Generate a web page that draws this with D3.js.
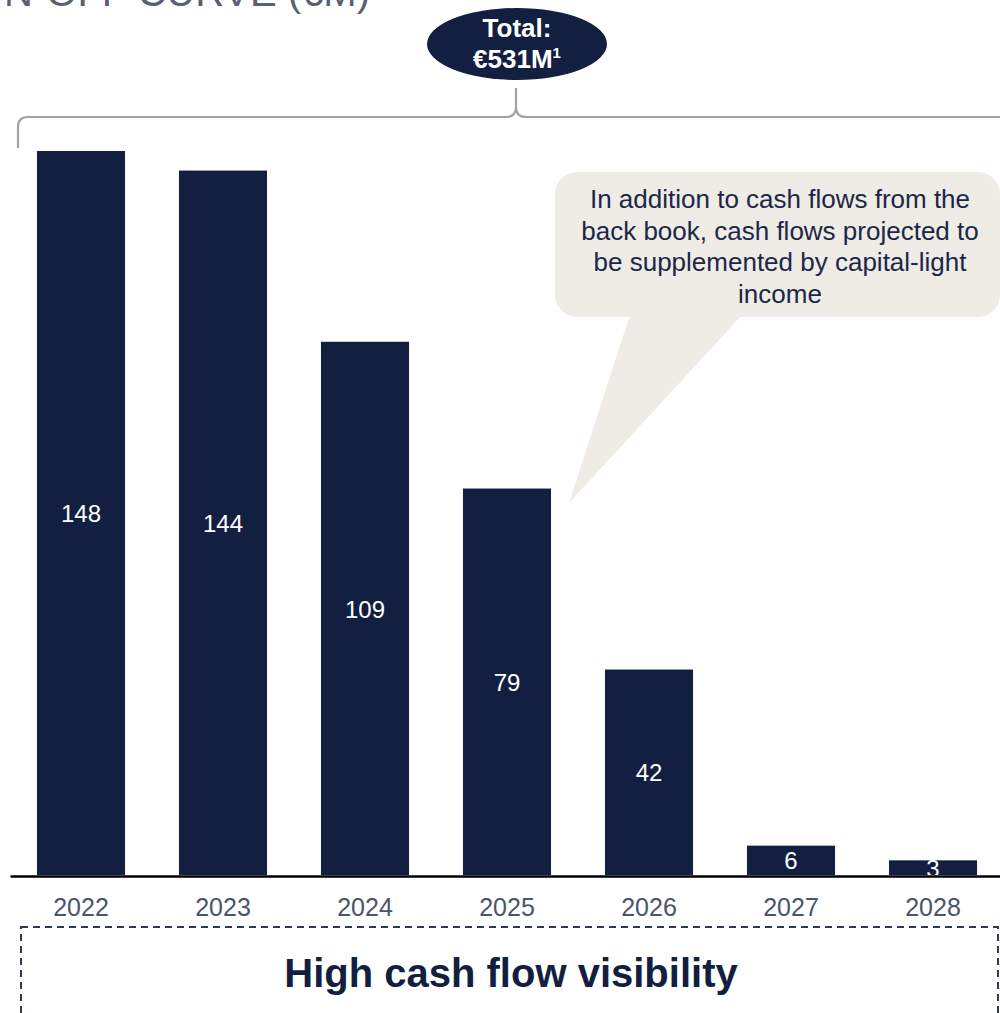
<!DOCTYPE html>
<html>
<head>
<meta charset="utf-8">
<script src="https://cdn.jsdelivr.net/npm/d3@7/dist/d3.min.js"></script>
<style>
  html, body { margin: 0; padding: 0; background: #ffffff; }
  svg { display: block; font-family: "Liberation Sans", Arial, sans-serif; }
</style>
</head>
<body>
<svg id="chart" width="1000" height="1013"></svg>
<script>
// Yearly cash flows, €M
const years = ["2022", "2023", "2024", "2025", "2026", "2027", "2028"];
const cashFlows = [148, 144, 109, 79, 42, 6, 3];
const calloutLines = [
  "In addition to cash flows from the",
  "back book, cash flows projected to",
  "be supplemented by capital-light",
  "income"
];
const titleText = "CASH FLOWS RUN-OFF CURVE (€M)";
const footerText = "High cash flow visibility";

const NAVY = "#121f41";
const svg = d3.select("#chart");

const x = d3.scaleBand()
  .domain(years)
  .range([10, 1004])
  .paddingInner(0.38)
  .paddingOuter(0.19);

const y = d3.scaleLinear()
  .domain([0, d3.max(cashFlows)])
  .range([875, 151]);

const data = years.map((yr, i) => ({ year: yr, value: cashFlows[i] }));

// Title (sits at the top edge)
svg.append("text")
  .attr("x", 370).attr("y", 6)
  .attr("text-anchor", "end")
  .attr("font-size", 40)
  .attr("fill", "#5a6073")
  .text(titleText);

// Bars
svg.append("g").selectAll("rect")
  .data(data)
  .join("rect")
  .attr("x", d => x(d.year))
  .attr("y", d => y(d.value))
  .attr("width", x.bandwidth())
  .attr("height", d => y(0) - y(d.value))
  .attr("fill", NAVY);

// Values inside bars
svg.append("g").selectAll("text")
  .data(data)
  .join("text")
  .attr("x", d => x(d.year) + x.bandwidth() / 2)
  .attr("y", d => (y(d.value) + y(0)) / 2)
  .attr("dy", "0.38em")
  .attr("text-anchor", "middle")
  .attr("font-size", 24)
  .attr("fill", "#ffffff")
  .text(d => d.value);

// Baseline axis with year labels
const axis = svg.append("g")
  .attr("transform", `translate(0,${y(0) + 1})`)
  .call(d3.axisBottom(x).tickSize(0).tickPadding(22));
axis.select(".domain")
  .attr("stroke", "#000000")
  .attr("stroke-width", 2.5);
axis.selectAll(".tick text")
  .attr("font-size", 25)
  .attr("font-family", "'Liberation Sans', Arial, sans-serif")
  .attr("fill", "#4b5469");

// Brace spanning all years
const braceY = 117, braceMid = 516;
svg.append("path")
  .attr("d", `M18,148 L18,127 Q18,${braceY} 28,${braceY} L${braceMid - 10},${braceY}
              Q${braceMid},${braceY} ${braceMid},${braceY - 10} L${braceMid},88
              M${braceMid},${braceY - 10} Q${braceMid},${braceY} ${braceMid + 10},${braceY} L1016,${braceY}`)
  .attr("fill", "none")
  .attr("stroke", "#a3a3a3")
  .attr("stroke-width", 2.2);

// Total badge
const total = d3.sum(cashFlows);
svg.append("ellipse")
  .attr("cx", 517).attr("cy", 44)
  .attr("rx", 90).attr("ry", 36)
  .attr("fill", NAVY);
svg.append("text")
  .attr("x", 517).attr("y", 37)
  .attr("text-anchor", "middle")
  .attr("font-size", 26)
  .attr("font-weight", "bold")
  .attr("fill", "#ffffff")
  .text("Total:");
const totalText = svg.append("text")
  .attr("x", 517).attr("y", 68)
  .attr("text-anchor", "middle")
  .attr("font-size", 26)
  .attr("font-weight", "bold")
  .attr("fill", "#ffffff");
totalText.append("tspan").text(`€${total}M`);
totalText.append("tspan")
  .attr("font-size", 15)
  .attr("dy", -10)
  .text("1");

// Callout bubble
const bubble = svg.append("g");
bubble.append("rect")
  .attr("x", 555).attr("y", 172)
  .attr("width", 445).attr("height", 145)
  .attr("rx", 22).attr("ry", 22)
  .attr("fill", "#efebe5");
bubble.append("path")
  .attr("d", d3.line()([[630, 315], [742, 315], [569, 503]]) + "Z")
  .attr("fill", "#efebe5");
bubble.append("g").selectAll("text")
  .data(calloutLines)
  .join("text")
  .attr("x", 780)
  .attr("y", (d, i) => 208 + i * 31.5)
  .attr("text-anchor", "middle")
  .attr("font-size", 26)
  .attr("fill", "#1b2748")
  .text(d => d);

// Dashed summary box
svg.append("rect")
  .attr("x", 21).attr("y", 927)
  .attr("width", 977).attr("height", 140)
  .attr("fill", "none")
  .attr("stroke", "#2d3957")
  .attr("stroke-width", 2)
  .attr("stroke-dasharray", "7,5");
svg.append("text")
  .attr("x", 511).attr("y", 987)
  .attr("text-anchor", "middle")
  .attr("font-size", 40)
  .attr("font-weight", "bold")
  .attr("fill", NAVY)
  .text(footerText);
</script>
</body>
</html>
